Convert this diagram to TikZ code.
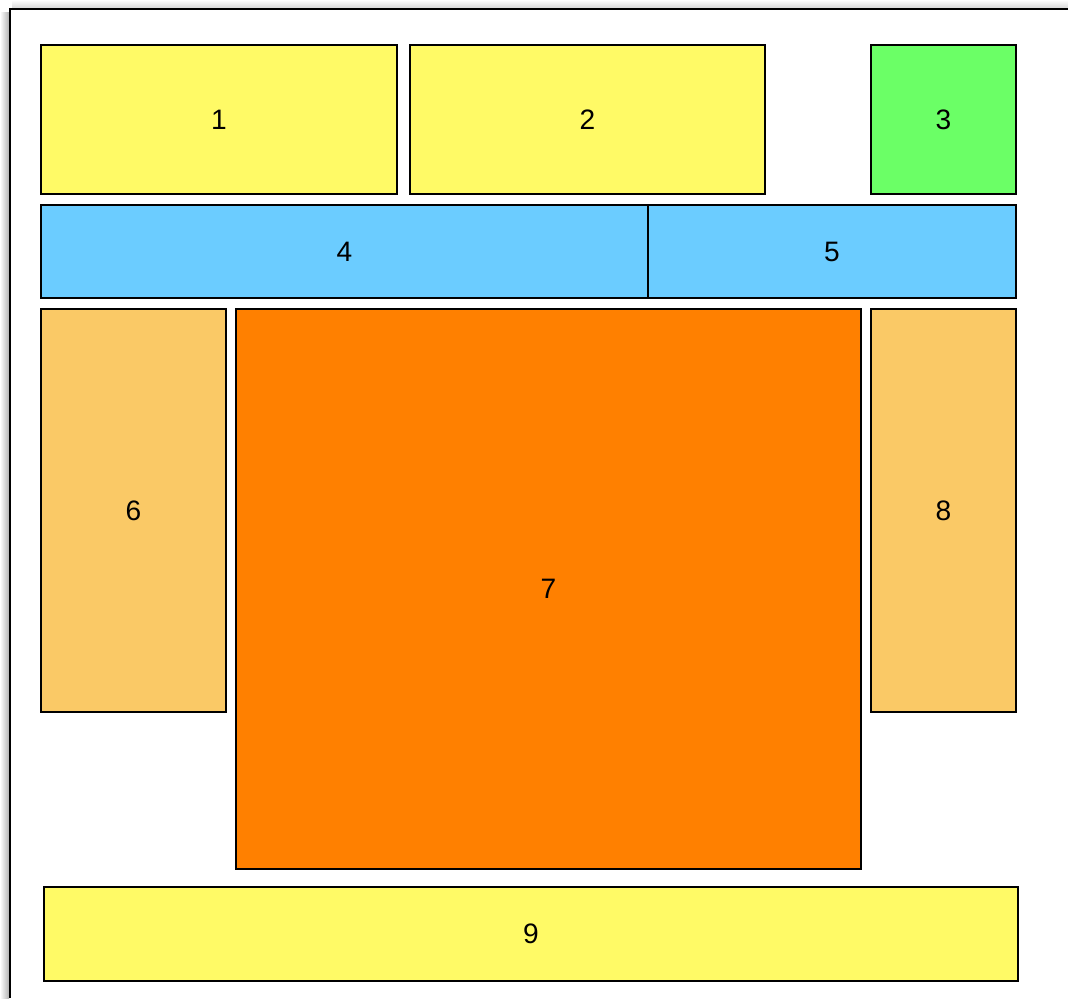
\documentclass[tikz,border=0pt]{standalone}
\usepackage{fontspec}
\setmainfont{Liberation Sans}
\usepackage{xcolor}
\definecolor{paleyellow}{rgb}{1.0, 0.98, 0.4}
\definecolor{brightgreen}{rgb}{0.42, 1.0, 0.4}
\definecolor{skyblue}{rgb}{0.42, 0.8, 1.0}
\definecolor{lightorange}{rgb}{0.98, 0.79, 0.4}
\definecolor{deeporange}{rgb}{1.0, 0.5, 0.0}
\usetikzlibrary{positioning}
\tikzset{
  panel/.style={rectangle,draw,line width=1.1pt,inner sep=0pt,outer sep=0pt,font=\fontsize{16}{19}\selectfont},
  header/.style={panel,fill=paleyellow},
  corner/.style={panel,fill=brightgreen},
  menubar/.style={panel,fill=skyblue},
  sidebar/.style={panel,fill=lightorange},
  content/.style={panel,fill=deeporange},
  footer/.style={panel,fill=paleyellow}
}

\begin{document}
\begin{tikzpicture}[x=0.02cm,y=-0.02cm]
  \useasboundingbox (0,0) rectangle (1068,998);
  % Page frame
  \fill[left color=white,right color=gray!60] (0,12) rectangle (9,998);
  \fill[top color=white,bottom color=gray!30] (12,0) rectangle (1068,8);
  \draw[line width=1.2pt] (10,998) -- (10,9) -- (1068,9);

  % Top row
  \node[header,minimum width=7.12cm,minimum height=2.98cm] (box1) at (219,119.5) {1};
  \node[header,minimum width=7.10cm,minimum height=2.98cm] (box2) at (587.5,119.5) {2};
  \node[corner,minimum width=2.90cm,minimum height=2.98cm] (box3) at (943.5,119.5) {3};

  % Menu bar
  \node[menubar,minimum width=12.14cm,minimum height=1.86cm] (box4) at (344.5,251.5) {4};
  \node[menubar,minimum width=7.36cm,minimum height=1.86cm] (box5) at (832,251.5) {5};

  % Middle
  \node[sidebar,minimum width=3.70cm,minimum height=8.06cm] (box6) at (133.5,510.5) {6};
  \node[content,minimum width=12.50cm,minimum height=11.20cm] (box7) at (548.5,589) {7};
  \node[sidebar,minimum width=2.90cm,minimum height=8.06cm] (box8) at (943.5,510.5) {8};

  % Footer
  \node[footer,minimum width=19.48cm,minimum height=1.88cm] (box9) at (531,934) {9};
\end{tikzpicture}
\end{document}
